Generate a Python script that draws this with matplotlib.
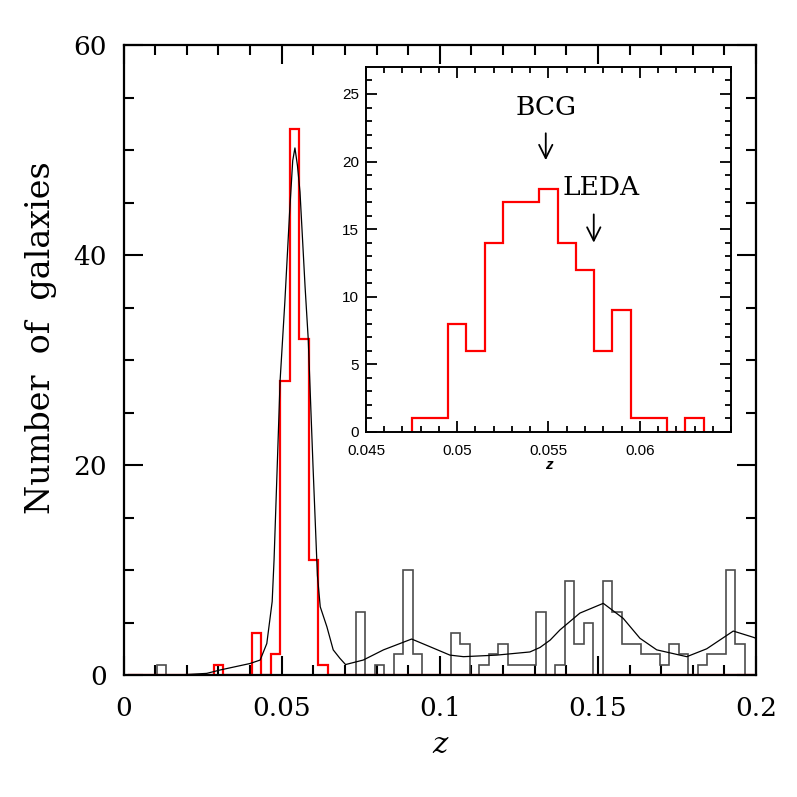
import numpy as np
import matplotlib
matplotlib.use('Agg')
import matplotlib.pyplot as plt

# main histogram: bin centres (z) and counts, bin width 0.003
member_z = [0.030, 0.042, 0.048, 0.051, 0.054, 0.057, 0.060, 0.063]
member_n = [1, 4, 2, 28, 52, 32, 11, 1]

field_z = [0.012, 0.075, 0.081, 0.087, 0.090, 0.093, 0.105, 0.108, 0.114, 0.117,
           0.120, 0.123, 0.126, 0.129, 0.132, 0.138, 0.141, 0.144, 0.147, 0.153,
           0.156, 0.159, 0.162, 0.165, 0.168, 0.171, 0.174, 0.177, 0.183, 0.186,
           0.189, 0.192, 0.195]
field_n = [1, 6, 1, 2, 10, 2, 4, 3, 1, 2,
           3, 1, 1, 1, 6, 1, 9, 3, 5, 9,
           6, 3, 3, 2, 2, 1, 3, 2, 1, 2,
           2, 10, 3]

# smooth density curve
curve_z = [0.015, 0.020, 0.0263, 0.0305, 0.0400, 0.0432, 0.0453, 0.0470, 0.0476, 0.0485,
           0.0495, 0.0510, 0.0525, 0.0535, 0.0542, 0.0550, 0.0558, 0.0574, 0.0584, 0.0599,
           0.0613, 0.0622, 0.0643, 0.0663, 0.0684, 0.0702, 0.0758, 0.0822, 0.0911, 0.0969,
           0.1032, 0.1075, 0.1180, 0.1285, 0.1317, 0.1349, 0.1380, 0.1443, 0.1517, 0.1580,
           0.1633, 0.1686, 0.1781, 0.1844, 0.1928, 0.1991, 0.2000]
curve_n = [0.0, 0.05, 0.16, 0.48, 1.1, 1.43, 3.0, 7.0, 11.0, 19.0,
           28.0, 35.5, 44.0, 49.0, 50.2, 48.5, 46.0, 37.0, 32.0, 20.0,
           9.5, 6.5, 4.6, 2.4, 1.6, 1.0, 1.43, 2.4, 3.43, 2.7,
           1.9, 1.75, 1.9, 2.2, 2.63, 3.33, 4.3, 5.9, 6.83, 5.4,
           3.5, 2.4, 1.75, 2.5, 4.19, 3.6, 3.5]

# inset: finer binning, width 0.001
inset_z = [0.048, 0.049, 0.050, 0.051, 0.052, 0.053, 0.054, 0.055,
           0.056, 0.057, 0.058, 0.059, 0.060, 0.061, 0.062, 0.063]
inset_n = [1, 1, 8, 6, 14, 17, 17, 18, 14, 12, 6, 9, 1, 1, 0, 1]

serif = ['DejaVu Serif']

fig = plt.figure(figsize=(7.97, 7.97), dpi=100)
ax = fig.add_axes([0.155, 0.153, 0.7936, 0.7905])

edges = np.round(np.arange(0.0015, 0.2, 0.003), 4)
ax.hist(field_z, bins=edges, weights=field_n, histtype='step', color='0.3', lw=1.2, zorder=2)
ax.hist(member_z, bins=edges, weights=member_n, histtype='step', color='red', lw=1.6, zorder=2.2)
ax.plot(curve_z, curve_n, color='black', lw=0.9, zorder=2.3)

ax.set_xlim(0, 0.2)
ax.set_ylim(0, 60)
ax.set_xticks([0, 0.05, 0.1, 0.15, 0.2])
ax.set_xticklabels(['0', '0.05', '0.1', '0.15', '0.2'])
ax.set_xticks(np.arange(0, 0.2001, 0.01), minor=True)
ax.set_yticks([0, 20, 40, 60])
ax.set_yticks(np.arange(0, 61, 5), minor=True)
ax.tick_params(which='both', direction='in', top=True, right=True, width=1.5)
ax.tick_params(which='major', length=14, pad=12, labelsize=19)
ax.tick_params(axis='x', which='major', pad=15)
ax.tick_params(which='minor', length=7)
for lab in ax.get_xticklabels() + ax.get_yticklabels():
    lab.set_family(serif)
for s in ax.spines.values():
    s.set_linewidth(1.6)
    s.set_zorder(3)
ax.set_xlabel('z', family=serif, style='italic', fontsize=21, labelpad=7)
ax.set_ylabel('Number  of  galaxies', family=serif, fontsize=24)
ax.yaxis.set_label_coords(-0.105, 0.535)

# inset
ins = fig.add_axes([0.4592, 0.458, 0.458, 0.458])
ins_edges = np.round(np.arange(0.0475, 0.0636, 0.001), 4)
ins.hist(inset_z, bins=ins_edges, weights=inset_n, histtype='step', color='red', lw=1.6)
ins.set_xlim(0.045, 0.065)
ins.set_ylim(0, 27)
ins.set_xticks([0.045, 0.05, 0.055, 0.06])
ins.set_xticklabels(['0.045', '0.05', '0.055', '0.06'])
ins.set_xticks(np.arange(0.045, 0.0651, 0.001), minor=True)
ins.set_yticks([0, 5, 10, 15, 20, 25])
ins.set_yticks(np.arange(0, 27, 1), minor=True)
ins.tick_params(which='both', direction='in', top=True, right=True, width=1.3,
                labelsize=11)
ins.tick_params(which='major', length=8, pad=5)
ins.tick_params(axis='x', which='major', pad=9)
ins.tick_params(which='minor', length=4)
for lab in ins.get_xticklabels() + ins.get_yticklabels():
    lab.set_family('Liberation Sans')
for s in ins.spines.values():
    s.set_linewidth(1.4)
ins.set_xlabel('z', family='Liberation Sans', style='italic', weight='bold',
               fontsize=11, labelpad=0)

ins.text(0.05485, 24.0, 'BCG', family=serif, fontsize=19, ha='center', va='center')
ins.annotate('', xy=(0.05485, 19.9), xytext=(0.05485, 22.3),
             arrowprops=dict(arrowstyle='->', lw=1.3, color='black', mutation_scale=24))
ins.text(0.05787, 18.1, 'LEDA', family=serif, fontsize=19, ha='center', va='center')
ins.annotate('', xy=(0.05748, 13.8), xytext=(0.05748, 16.3),
             arrowprops=dict(arrowstyle='->', lw=1.3, color='black', mutation_scale=24))

fig.savefig('out.png', dpi=100)
